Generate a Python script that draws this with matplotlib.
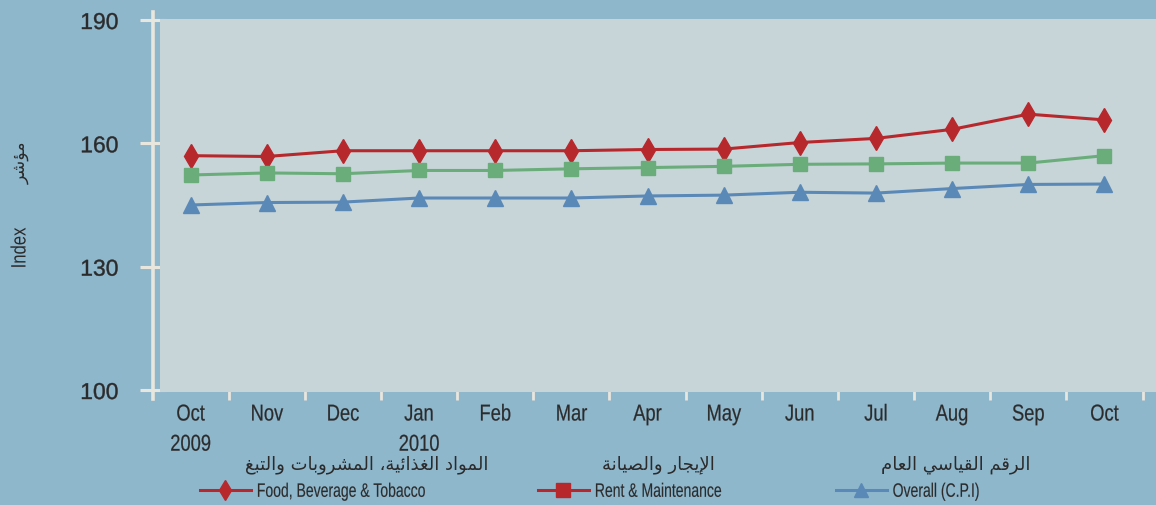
import matplotlib
matplotlib.use("Agg")
import matplotlib.pyplot as plt
from matplotlib.lines import Line2D
from matplotlib.patches import Rectangle
from matplotlib.patheffects import AbstractPathEffect
from matplotlib.transforms import Affine2D

# ---------------- data ----------------
months = ['Oct\n2009', 'Nov', 'Dec', 'Jan\n2010', 'Feb', 'Mar', 'Apr',
          'May', 'Jun', 'Jul', 'Aug', 'Sep', 'Oct']
food = [157.0, 156.8, 158.2, 158.2, 158.2, 158.2, 158.5, 158.6, 160.2, 161.2, 163.4, 167.1, 165.7]
rent = [152.3, 152.8, 152.6, 153.4, 153.4, 153.8, 154.1, 154.4, 154.9, 155.0, 155.2, 155.2, 157.0]
overall = [145.0, 145.6, 145.7, 146.7, 146.7, 146.7, 147.2, 147.4, 148.1, 147.9, 149.0, 150.0, 150.1]
yticks = [100, 130, 160, 190]
labels_en = ['Food, Beverage & Tobacco', 'Rent & Maintenance', 'Overall (C.P.I)']
labels_ar = ['المواد الغذائية، المشروبات والتبغ', 'الإيجار والصيانة', 'الرقم القياسي العام']
ylabel_en = 'Index'
ylabel_ar = 'مؤشر'

# ---------------- colours ----------------
BG = '#8fb7cc'
PLOT = '#c7d5d8'
RED = '#b7282d'
GREEN = '#6aad7b'
BLUE = '#5b89b7'
AXW = '#e9e6dd'
TXT = '#2b2b2b'

SANS = ['Liberation Sans', 'DejaVu Sans']
ARAB = ['DejaVu Sans']


class Condense(AbstractPathEffect):
    """Draw text glyphs horizontally condensed (like a narrow face), optionally heavier."""

    def __init__(self, sx=0.78, anchor='center', vertical=False, stroke=0.0):
        super().__init__()
        self.sx = sx
        self.anchor = anchor
        self.vertical = vertical
        self.stroke = stroke

    def draw_path(self, renderer, gc, tpath, affine, rgbFace=None):
        ext = tpath.get_extents(affine)
        if self.vertical:
            y0 = (ext.y0 + ext.y1) / 2
            t = Affine2D().translate(0, -y0).scale(1, self.sx).translate(0, y0)
        else:
            if self.anchor == 'left':
                x0 = ext.x0
            elif self.anchor == 'right':
                x0 = ext.x1
            else:
                x0 = (ext.x0 + ext.x1) / 2
            t = Affine2D().translate(-x0, 0).scale(self.sx, 1).translate(x0, 0)
        gc0 = renderer.new_gc()
        gc0.copy_properties(gc)
        if self.stroke > 0 and rgbFace is not None:
            gc0.set_foreground(rgbFace)
            gc0.set_linewidth(self.stroke)
        renderer.draw_path(gc0, tpath, affine + t, rgbFace)
        gc0.restore()


# ---------------- minimal Arabic shaping ----------------
FORMS = {
    'ا': ('\uFE8D', '\uFE8E'), 'إ': ('\uFE87', '\uFE88'), 'أ': ('\uFE83', '\uFE84'),
    'د': ('\uFEA9', '\uFEAA'), 'ذ': ('\uFEAB', '\uFEAC'), 'ر': ('\uFEAD', '\uFEAE'),
    'و': ('\uFEED', '\uFEEE'), 'ة': ('\uFE93', '\uFE94'), 'ؤ': ('\uFE85', '\uFE86'),
    'ب': ('\uFE8F', '\uFE90', '\uFE91', '\uFE92'),
    'ت': ('\uFE95', '\uFE96', '\uFE97', '\uFE98'),
    'ج': ('\uFE9D', '\uFE9E', '\uFE9F', '\uFEA0'),
    'س': ('\uFEB1', '\uFEB2', '\uFEB3', '\uFEB4'),
    'ش': ('\uFEB5', '\uFEB6', '\uFEB7', '\uFEB8'),
    'ص': ('\uFEB9', '\uFEBA', '\uFEBB', '\uFEBC'),
    'ع': ('\uFEC9', '\uFECA', '\uFECB', '\uFECC'),
    'غ': ('\uFECD', '\uFECE', '\uFECF', '\uFED0'),
    'ق': ('\uFED5', '\uFED6', '\uFED7', '\uFED8'),
    'ل': ('\uFEDD', '\uFEDE', '\uFEDF', '\uFEE0'),
    'م': ('\uFEE1', '\uFEE2', '\uFEE3', '\uFEE4'),
    'ن': ('\uFEE5', '\uFEE6', '\uFEE7', '\uFEE8'),
    'ي': ('\uFEF1', '\uFEF2', '\uFEF3', '\uFEF4'),
    'ئ': ('\uFE89', '\uFE8A', '\uFE8B', '\uFE8C'),
}
LAMALEF = {'ا': ('\uFEFB', '\uFEFC'), 'إ': ('\uFEF9', '\uFEFA'), 'أ': ('\uFEF7', '\uFEF8')}


def shape(s):
    out = []
    i = 0
    n = len(s)

    def dual(c):
        return c in FORMS and len(FORMS[c]) == 4

    while i < n:
        c = s[i]
        if c not in FORMS:
            out.append(c)
            i += 1
            continue
        prev = s[i - 1] if i > 0 else ''
        join_prev = dual(prev)
        if c == 'ل' and i + 1 < n and s[i + 1] in LAMALEF:
            out.append(LAMALEF[s[i + 1]][1 if join_prev else 0])
            i += 2
            continue
        nxt = s[i + 1] if i + 1 < n else ''
        join_next = dual(c) and nxt in FORMS
        f = FORMS[c]
        if join_prev and join_next:
            out.append(f[3])
        elif join_prev:
            out.append(f[1])
        elif join_next:
            out.append(f[2])
        else:
            out.append(f[0])
        i += 1
    return ''.join(out)[::-1]


# ---------------- figure ----------------
W, H = 1156, 506
fig = plt.figure(figsize=(W / 100, H / 100), dpi=100, facecolor=BG)
ax = fig.add_axes([152.5 / W, 115 / H, 990 / W, 370 / H])
ax.set_facecolor('none')

x = list(range(len(months)))
ax.plot(x, food, color=RED, lw=2.2, marker='d', ms=12, mec=RED, zorder=5)
ax.plot(x, rent, color=GREEN, lw=2.2, marker='s', ms=10, mec=GREEN, zorder=5)
ax.plot(x, overall, color=BLUE, lw=2.2, marker='^', ms=11, mec=BLUE, zorder=5)

ax.add_patch(Rectangle((7.5 / 990, -2 / 370), 1.02, 1 + 3 / 370, transform=ax.transAxes,
                       facecolor=PLOT, edgecolor='none', zorder=2, clip_on=False))

ax.set_xlim(-0.5, len(months) - 0.5)
ax.set_ylim(100, 190)

ax.set_yticks(yticks)
ax.set_yticklabels([str(v) for v in yticks], family=SANS, fontsize=16.5, color=TXT)
ax.tick_params(axis='y', direction='inout', length=19, width=2.2, color=AXW, pad=15)
for t in ax.get_yticklabels():
    t.set_path_effects([Condense(1.0, 'right', stroke=0.3)])

ax.set_xticks(x)
ax.set_xticklabels(months, family=SANS, fontsize=16.5, color=TXT, linespacing=1.4)
ax.set_xticks([i + 0.5 for i in x], minor=True)
ax.tick_params(axis='x', which='major', length=0, pad=9)
ax.tick_params(axis='x', which='minor', direction='out', length=7, width=2, color=AXW)
for t in ax.get_xticklabels():
    t.set_path_effects([Condense(0.8, 'center', stroke=0.15)])

for s in ['top', 'right', 'bottom']:
    ax.spines[s].set_visible(False)
ax.spines['left'].set_color(AXW)
ax.spines['left'].set_linewidth(2.6)
ax.spines['left'].set_bounds(97.8, 191.9)

# y labels
fig.text(20 / W, 1 - 249 / H, ylabel_en, rotation=90, ha='center', va='center',
         family=SANS, fontsize=15, color=TXT,
         path_effects=[Condense(0.8, vertical=True)])
fig.text(21 / W, 1 - 163 / H, shape(ylabel_ar), rotation=90, ha='center', va='center',
         family=ARAB, fontsize=12.5, color=TXT)

# legends
handles = [
    Line2D([], [], color=RED, lw=2.2, marker='d', ms=10, mec=RED),
    Line2D([], [], color=RED, lw=2.2, marker='s', ms=10, mec=RED),
    Line2D([], [], color=BLUE, lw=2.2, marker='^', ms=10, mec=BLUE),
]
leg_x = [200, 538, 836]
ar_center = [367, 658, 956]
for h, lab, lx in zip(handles, labels_en, leg_x):
    lg = fig.legend([h], [lab], loc='center left', bbox_to_anchor=(lx / W, 1 - 493 / H),
                    frameon=False, borderpad=0, borderaxespad=0, handlelength=2.6,
                    handletextpad=0.3, prop={'family': SANS, 'size': 14})
    for t in lg.get_texts():
        t.set_color(TXT)
        t.set_path_effects([Condense(0.72, 'left', stroke=0.1)])
for lab, cx in zip(labels_ar, ar_center):
    fig.text(cx / W, 1 - 465 / H, shape(lab), ha='center', va='center',
             family=ARAB, fontsize=13, color=TXT)

fig.savefig('out.png', dpi=100, facecolor=BG)
